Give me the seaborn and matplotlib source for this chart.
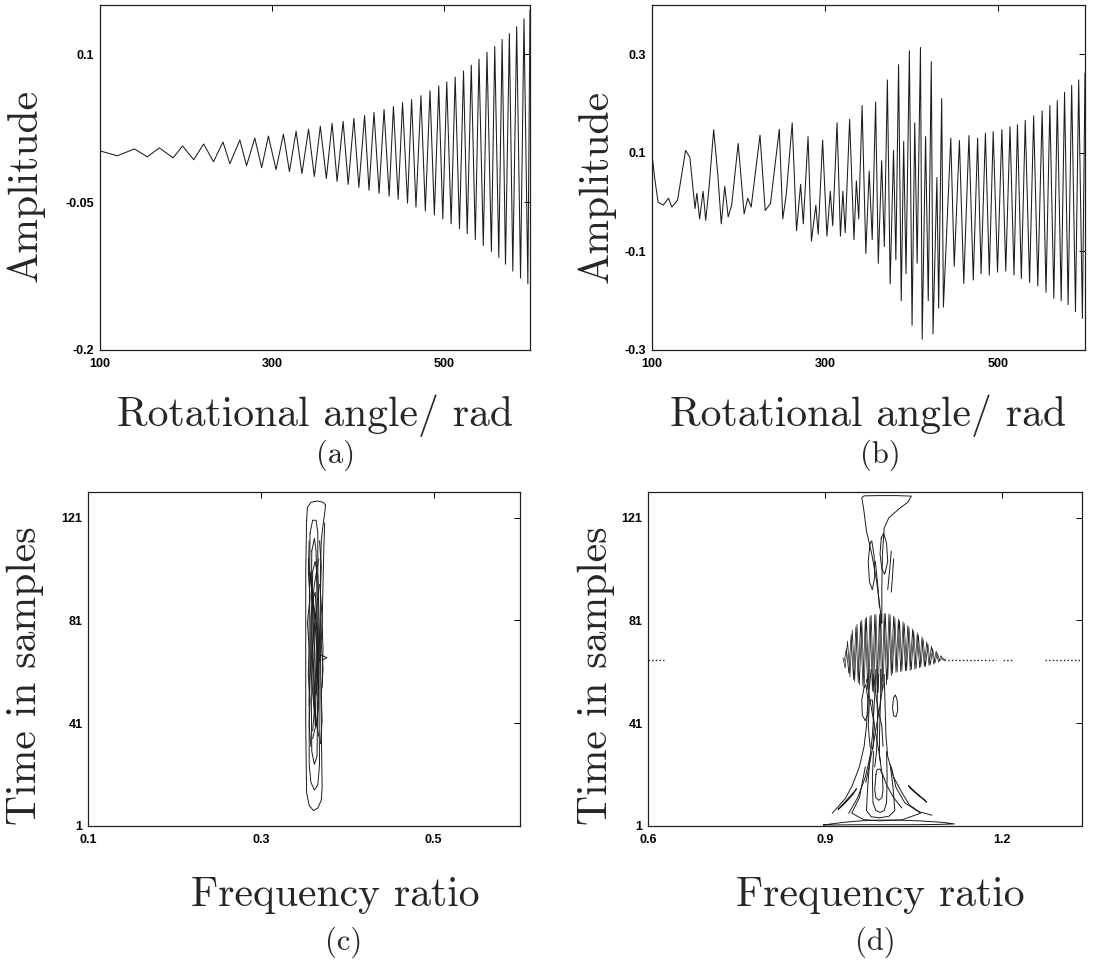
import numpy as np
import pandas as pd
import matplotlib
matplotlib.use("Agg")
import matplotlib.pyplot as plt
import seaborn as sns

W, H = 1096, 968

# ---------------- panel (a): chirp-like growing oscillation ----------------
a_ends_x = [100, 600]
a_ends_y = [0.002, 0.145]
a_peak_x = [140, 169, 196, 220.5, 243, 262.6, 280, 295.8, 313.3, 328, 342.5, 356.2, 369.9,
            382.7, 395.2, 407.7, 418.6, 430.3, 441.2, 451.8, 462.3, 473.2, 483.7, 493.9,
            503.2, 513, 522.7, 531.7, 540.7, 550, 559, 567.6, 576, 584.5, 593]
a_peak_y = [0.004, 0.005, 0.007, 0.009, 0.011, 0.013, 0.015, 0.017, 0.019, 0.022, 0.024,
            0.027, 0.030, 0.032, 0.035, 0.038, 0.041, 0.044, 0.047, 0.051, 0.054, 0.058,
            0.063, 0.068, 0.072, 0.077, 0.083, 0.089, 0.095, 0.102, 0.108, 0.115, 0.121,
            0.128, 0.136]
a_trough_x = [120, 155, 185, 209, 232, 251, 270.4, 288, 304.7, 320.3, 334.8, 349.2, 363.2,
              375.7, 388.6, 401, 412.8, 424.5, 436.2, 446.7, 457.6, 467.4, 478.3, 488.8,
              498.6, 508.3, 518, 527, 536.4, 545.7, 555.1, 563.7, 571.5, 580, 589, 597.5]
a_trough_y = [-0.003, -0.004, -0.005, -0.007, -0.009, -0.011, -0.013, -0.015, -0.017,
              -0.019, -0.021, -0.024, -0.026, -0.029, -0.032, -0.035, -0.038, -0.041,
              -0.044, -0.047, -0.051, -0.055, -0.059, -0.063, -0.067, -0.072, -0.077,
              -0.082, -0.088, -0.094, -0.100, -0.106, -0.113, -0.120, -0.127, -0.133]

# ---------------- panel (b): beating signal with burst ----------------
b_points = [
    (100, 0.098), (103, 0.05), (107, 0.0), (113, -0.006), (119, 0.008), (123, -0.01),
    (129.5, 0.004), (138.8, 0.105), (143.7, 0.091), (149.7, -0.013), (151.8, 0.018),
    (155, -0.034), (159, 0.022), (162, -0.037), (166, 0.032), (171.2, 0.147), (176, 0.056),
    (180, -0.044), (184, 0.032), (188, -0.03), (192, -0.006), (199.5, 0.119), (206.4, -0.024),
    (210.5, 0.008), (214.5, -0.01), (224.7, 0.136), (230.7, -0.017), (236.8, -0.003),
    (247, 0.148), (251, -0.034), (255, 0.015),
    (261.9, 0.161), (266.9, -0.058), (271.6, 0.036), (274.7, -0.044), (280.2, 0.133),
    (284.1, -0.079), (289.2, -0.006), (291.9, -0.065), (297, 0.126), (302, -0.069),
    (305.9, 0.022), (308.7, -0.048), (313.7, 0.161), (317.6, -0.069), (320.4, 0.022),
    (323.1, -0.062), (328.2, 0.168), (333.2, -0.076), (336, 0.043), (338.7, -0.034),
    (342.6, 0.196), (346.9, -0.104), (350.8, 0.063), (354.3, -0.076), (358.2, 0.203),
    (361.3, -0.124), (365.2, 0.084), (368.3, -0.09), (371.8, 0.248), (375, -0.166),
    (378.9, 0.105), (381.6, -0.117), (384.7, 0.279), (387.8, -0.2), (390.6, 0.123),
    (393.3, -0.145), (397.2, 0.307), (400.3, -0.25), (403.4, 0.161), (406.2, -0.124),
    (410, 0.314), (412, -0.278), (415.9, 0.133), (419, -0.2), (422.5, 0.285),
    (424.5, -0.267), (429, 0.05), (431, -0.215), (434.5, 0.21), (436.5, -0.213),
    (445, 0.13), (449, -0.13), (455, 0.125), (460, -0.165), (466, 0.135), (471, -0.158),
    (476, 0.13), (480, -0.145), (485, 0.14), (489.5, -0.148), (494, 0.143), (499, -0.142),
    (504, 0.147), (508.5, -0.14), (513.4, 0.153), (518, -0.148), (522, 0.157),
    (526.5, -0.155), (531, 0.166), (536, -0.163), (540.7, 0.175), (545.5, -0.17),
    (550.5, 0.185), (555, -0.183), (559.4, 0.196), (564, -0.195), (568, 0.206),
    (572.5, -0.2), (576.4, 0.223), (580.5, -0.208), (584.6, 0.237), (589, -0.222),
    (592.7, 0.248), (597, -0.236), (600, 0.262)]
b_x = [p[0] for p in b_points]
b_y = [p[1] for p in b_points]

# ---------------- panel (c): contour lines (frequency ratio, time sample) ----------------
c_contours = [
    [(0.353, 120), (0.352, 100), (0.352, 40), (0.353, 14), (0.356, 9), (0.361, 7), (0.366, 8),
     (0.370, 11), (0.371, 16), (0.370, 40), (0.369, 70), (0.369, 100), (0.370, 112),
     (0.372, 118), (0.374, 123), (0.375, 126), (0.372, 127), (0.366, 127.5), (0.358, 127),
     (0.354, 125), (0.353, 120)],
    [(0.357, 115), (0.356, 80), (0.356, 25), (0.358, 18), (0.362, 15), (0.366, 17),
     (0.368, 25), (0.367, 60), (0.366, 100), (0.366, 115), (0.364, 120), (0.360, 120),
     (0.357, 115)],
    [(0.359, 108), (0.358, 70), (0.359, 30), (0.362, 25), (0.365, 28), (0.366, 50),
     (0.365, 90), (0.364, 108), (0.362, 113), (0.359, 108)],
    [(0.356, 112), (0.355, 100), (0.357, 90), (0.354, 80), (0.356, 70), (0.355, 60),
     (0.357, 50), (0.356, 40), (0.358, 32)],
    [(0.368, 112), (0.370, 102), (0.369, 92), (0.371, 82), (0.370, 72), (0.372, 62),
     (0.370, 52), (0.371, 42), (0.369, 33)],
    [(0.360, 100), (0.359, 75), (0.361, 50), (0.364, 40), (0.367, 48), (0.368, 75),
     (0.366, 98), (0.363, 104), (0.360, 100)],
    [(0.361, 90), (0.360, 70), (0.362, 55), (0.364, 52), (0.366, 60), (0.365, 80),
     (0.363, 92), (0.361, 90)],
    [(0.374, 119), (0.373, 110), (0.372, 95), (0.371, 80), (0.372, 70), (0.371, 55)],
    [(0.355, 105), (0.358, 95), (0.362, 85), (0.366, 75), (0.368, 65)],
    [(0.368, 95), (0.364, 85), (0.360, 72), (0.357, 60), (0.356, 48)],
    [(0.362, 80), (0.3615, 60), (0.363, 40), (0.3645, 60), (0.364, 80)],
    [(0.357, 100), (0.361, 88), (0.365, 70), (0.367, 55), (0.365, 42), (0.360, 35)],
    [(0.367, 105), (0.362, 95), (0.358, 82), (0.358, 62), (0.362, 45), (0.367, 36)],
    [(0.359, 95), (0.3605, 80), (0.3625, 68), (0.3635, 58), (0.362, 46), (0.360, 38)],
    [(0.370, 67.5), (0.3765, 66.5), (0.371, 65.5)],
]

# ---------------- panel (d): contour lines ----------------
d_contours = [
    # funnel at top
    [(0.996, 80), (0.992, 87.5), (0.987, 96.5), (0.979, 106.8), (0.970, 115.8), (0.965, 124.8),
     (0.962, 128.8), (0.966, 129.5), (0.990, 129.6), (1.020, 129.6), (1.046, 129.4),
     (1.040, 127), (1.027, 124.8), (1.008, 121), (1.000, 117), (0.997, 106.8), (0.996, 94),
     (0.996, 80)],
    [(0.976, 111), (0.973, 104), (0.975, 96), (0.980, 93), (0.984, 98), (0.983, 106),
     (0.979, 112), (0.976, 111)],
    [(0.995, 113), (0.993, 107), (0.996, 101), (1.001, 99), (1.006, 104), (1.004, 111),
     (0.999, 115), (0.995, 113)],
    [(1.012, 108), (1.009, 100), (1.006, 93)],
    [(1.016, 105), (1.014, 98), (1.012, 92)],
    [(0.985, 104), (0.989, 95), (0.992, 86)],
    # column below the cross-term region
    [(0.978, 62), (0.975, 55), (0.972, 48), (0.970, 40), (0.966, 32), (0.958, 24),
     (0.946, 16.8), (0.935, 12), (0.924, 9), (0.912, 6)],
    [(0.986, 62), (0.984, 52), (0.982, 44), (0.980, 36), (0.976, 28), (0.968, 20),
     (0.955, 12), (0.940, 6)],
    [(0.994, 62), (0.994, 52), (0.993, 44), (0.992, 36), (0.992, 28), (0.996, 22),
     (1.004, 17), (1.016, 12), (1.030, 8)],
    [(1.000, 60), (1.001, 52), (1.002, 44), (1.003, 36), (1.006, 28), (1.016, 20),
     (1.030, 14), (1.043, 9.1), (1.060, 6.5), (1.081, 5.2)],
    [(0.970, 58), (0.976, 50), (0.982, 42), (0.988, 34), (0.994, 26)],
    [(0.998, 56), (0.993, 48), (0.987, 40), (0.981, 32), (0.975, 25), (0.969, 18)],
    [(0.990, 60), (0.988, 50), (0.989, 40), (0.987, 30), (0.984, 24)],
    [(0.982, 60), (0.986, 52), (0.990, 46), (0.996, 40), (0.998, 32)],
    [(0.966, 55), (0.962, 50), (0.963, 44), (0.968, 42), (0.973, 45), (0.972, 51),
     (0.969, 56), (0.966, 55)],
    [(1.016, 51), (1.014, 47), (1.016, 44), (1.020, 43.5), (1.023, 46), (1.022, 50),
     (1.019, 52), (1.016, 51)],
    [(0.975, 50), (0.973, 40), (0.976, 32), (0.981, 31), (0.983, 40), (0.980, 50),
     (0.975, 50)],
    # nested lobes at the bottom
    [(0.986, 21), (0.984, 15), (0.986, 12), (0.991, 11), (0.996, 12), (0.998, 15),
     (0.997, 21), (0.993, 23.2), (0.988, 23), (0.986, 21)],
    [(0.982, 30), (0.980, 20), (0.981, 10), (0.986, 7), (0.993, 6.3), (1.000, 7),
     (1.004, 10), (1.005, 20), (1.004, 30)],
    [(0.976, 28), (0.972, 16), (0.970, 7), (0.978, 4.6), (0.992, 4.2), (1.008, 4.8),
     (1.018, 7), (1.015, 16), (1.010, 25)],
    [(0.968, 24), (0.958, 12), (0.945, 6), (0.965, 3.5), (0.992, 3.0), (1.030, 3.4),
     (1.062, 6), (1.035, 10), (1.020, 16), (1.012, 24)],
    [(0.897, 1.4), (0.930, 2.4), (0.960, 3.0), (0.990, 3.3), (1.020, 3.3), (1.060, 3.0),
     (1.100, 2.4), (1.119, 1.8), (1.090, 1.6), (1.050, 1.5), (1.010, 1.5), (0.985, 1.5),
     (0.950, 1.5), (0.915, 1.4), (0.897, 1.4)],
    [(0.922, 7.5), (0.930, 9.5), (0.940, 12), (0.950, 14.5), (0.953, 15.5), (0.946, 13),
     (0.935, 10.2), (0.925, 8), (0.922, 7.5)],
    [(1.041, 16.8), (1.050, 14.8), (1.060, 12.8), (1.070, 10.8), (1.072, 10.3),
     (1.064, 11.8), (1.052, 14), (1.043, 16), (1.041, 16.8)],
]

# cross-term region of (d): envelope read at each frequency
d_blob_x = [0.930, 0.934, 0.938, 0.942, 0.946, 0.950, 0.954, 0.958, 0.962, 0.966, 0.970,
            0.974, 0.978, 0.982, 0.986, 0.990, 0.994, 0.998, 1.002, 1.006, 1.010, 1.014,
            1.018, 1.022, 1.026, 1.030, 1.034, 1.038, 1.042, 1.046, 1.050, 1.054, 1.058,
            1.062, 1.066, 1.070, 1.074, 1.078, 1.082, 1.086, 1.090, 1.094, 1.098, 1.102]
d_blob_top = [66.5, 70, 73, 75.5, 77.3, 78.5, 79.5, 80.5, 81.1, 81.8, 82.3, 82.7, 83, 83.2,
              83.4, 83.5, 83.6, 83.7, 83.7, 83.6, 83.2, 82.7, 82.1, 81.6, 81.1, 80.5, 79.8,
              79.1, 78.4, 77.7, 77, 76.2, 75.4, 74.6, 73.7, 72.8, 71.9, 71, 70, 69.1, 68.2,
              67.3, 66.5, 66]
d_blob_bot = [65, 62.5, 60.5, 59, 58, 57.3, 56.7, 56, 55.4, 55, 54.5, 54, 53.5, 53, 53, 53,
              53.5, 54.5, 56, 58, 59.5, 60.3, 60.7, 61, 61.1, 61.2, 61.3, 61.5, 61.6, 61.8,
              62, 62.3, 62.6, 62.8, 63, 63.1, 63.4, 63.7, 64, 64.4, 64.8, 65.2, 65.5, 65.7]
d_dot_y = 65.8
d_dot_segments = [(0.600, 0.627), (1.102, 1.190), (1.201, 1.219), (1.272, 1.335)]

# ---------------- axis definitions ----------------
a_xticks, a_xlabels = [100, 300, 500], ["100", "300", "500"]
a_yticks, a_ylabels = [-0.2, -0.05, 0.1], ["-0.2", "-0.05", "0.1"]
b_xticks, b_xlabels = [100, 300, 500], ["100", "300", "500"]
b_yticks, b_ylabels = [-0.3, -0.1, 0.1, 0.3], ["-0.3", "-0.1", "0.1", "0.3"]
c_xticks, c_xlabels = [0.1, 0.3, 0.5], ["0.1", "0.3", "0.5"]
d_xticks, d_xlabels = [0.6, 0.9, 1.2], ["0.6", "0.9", "1.2"]
t_yticks, t_ylabels = [1, 41, 81, 121], ["1", "41", "81", "121"]

# ---------------- drawing ----------------
sns.set_theme(style="white")
plt.rcParams["font.family"] = ["Liberation Sans", "DejaVu Sans"]
plt.rcParams["axes.unicode_minus"] = False
LABEL_FONT = ["cmr10", "DejaVu Serif"]
LINE = "#1c1c1c"

fig = plt.figure(figsize=(W / 100, H / 100), dpi=100)
fig.patch.set_facecolor("white")


def box(l, t, r, b):
    return [l / W, 1 - b / H, (r - l) / W, (b - t) / H]


def trace(ax, xs, ys, lw=0.8, **kw):
    sns.lineplot(x=list(xs), y=list(ys), sort=False, estimator=None, ax=ax,
                 color=LINE, linewidth=lw, legend=False, **kw)


def style(ax, pix, xlim, ylim, xt, xl, yt, yl, xlab, ylab, xlab_px, ylab_px):
    l, t, r, b = pix
    ax.set_xlim(xlim)
    ax.set_ylim(ylim)
    ax.set_xticks(xt)
    ax.set_xticklabels(xl, fontweight="bold", fontsize=9)
    ax.set_yticks(yt)
    ax.set_yticklabels(yl, fontweight="bold", fontsize=9)
    ax.tick_params(axis="both", direction="in", length=4, width=0.7, top=True,
                   right=True, colors="black")
    ax.tick_params(axis="x", pad=6)
    ax.tick_params(axis="y", pad=4)
    for s in ax.spines.values():
        s.set_visible(True)
        s.set_color("#202020")
        s.set_linewidth(0.9)
    ax.set_facecolor("white")
    ax.set_xlabel(xlab, fontfamily=LABEL_FONT, fontsize=30)
    ax.set_ylabel(ylab, fontfamily=LABEL_FONT, fontsize=30)
    ax.xaxis.label.set_va("center")
    ax.yaxis.label.set_va("center")
    ax.xaxis.set_label_coords((xlab_px[0] - l) / (r - l), (b - xlab_px[1]) / (b - t))
    ax.yaxis.set_label_coords((ylab_px[0] - l) / (r - l), (b - ylab_px[1]) / (b - t))


# (a)
pa = (100, 5, 530, 350)
axa = fig.add_axes(box(*pa))
dfa = pd.DataFrame({"x": a_ends_x + a_peak_x + a_trough_x,
                    "y": a_ends_y + a_peak_y + a_trough_y}).sort_values("x")
trace(axa, dfa["x"], dfa["y"], lw=0.75)
style(axa, pa, (100, 600), (-0.2, 0.15), a_xticks, a_xlabels, a_yticks, a_ylabels,
      "Rotational angle/ rad", "Amplitude", (315, 416), (25, 185))

# (b)
pb = (652, 5, 1085, 350)
axb = fig.add_axes(box(*pb))
trace(axb, b_x, b_y, lw=0.75)
style(axb, pb, (100, 600), (-0.3, 0.4), b_xticks, b_xlabels, b_yticks, b_ylabels,
      "Rotational angle/ rad", "Amplitude", (868, 416), (596, 186))

# (c)
pc = (88, 492, 520, 826)
axc = fig.add_axes(box(*pc))
for cont in c_contours:
    trace(axc, [p[0] for p in cont], [p[1] for p in cont], lw=0.7)
style(axc, pc, (0.1, 0.6), (1, 131), c_xticks, c_xlabels, t_yticks, t_ylabels,
      "Frequency ratio", "Time in samples", (335, 895), (25, 676))

# (d)
pd_ = (648, 492, 1082, 826)
axd = fig.add_axes(box(*pd_))
for cont in d_contours:
    trace(axd, [p[0] for p in cont], [p[1] for p in cont], lw=0.7)
idx = np.arange(len(d_blob_x))
zig1 = np.where(idx % 2 == 0, d_blob_top, d_blob_bot)
zig2 = np.where(idx % 2 == 0, d_blob_bot, d_blob_top)
trace(axd, d_blob_x, zig1, lw=0.5)
trace(axd, np.array(d_blob_x) + 0.002, zig2, lw=0.5)
for x0, x1 in d_dot_segments:
    trace(axd, [x0, x1], [d_dot_y, d_dot_y], lw=1.0, linestyle=":")
style(axd, pd_, (0.6, 1.335), (1, 131), d_xticks, d_xlabels, t_yticks, t_ylabels,
      "Frequency ratio", "Time in samples", (880, 895), (596, 676))

# sub-figure captions
for txt, (px, py) in zip(["(a)", "(b)", "(c)", "(d)"],
                         [(336, 455), (880, 455), (344, 942), (875, 942)]):
    fig.text(px / W, 1 - py / H, txt, fontfamily=LABEL_FONT, fontsize=22,
             ha="center", va="center")

fig.savefig("out.png", dpi=100, facecolor="white")
